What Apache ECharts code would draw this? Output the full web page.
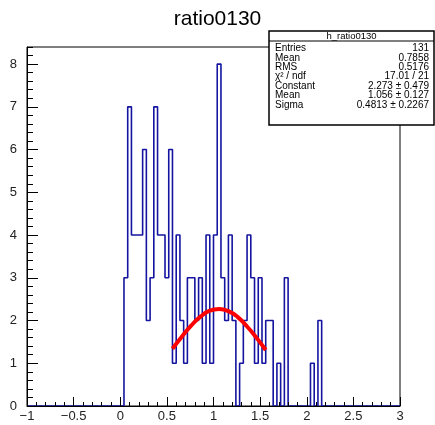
<!DOCTYPE html>
<html><head><meta charset="utf-8">
<script src="https://cdn.jsdelivr.net/npm/echarts@6/dist/echarts.min.js"></script>
<style>html,body{margin:0;padding:0;background:#fff}#c{width:435px;height:425px}</style>
</head><body><div id="c"></div>
<script>
// ---- data ----
const chartTitle = 'ratio0130';
const binStart = 0.04;
const binWidth = 0.04;
const counts = [3,7,4,4,4,6,2,3,7,4,4,3,6,1,4,2,1,3,3,2,3,1,4,1,4,8,3,2,4,2,0,1,2,4,3,1,3,1,2,2,0,1,0,3,0,0,0,0,0,0,1,0,2];
const xRange = [-1, 3];
const yRange = [0, 8.4];
const fitX = [0.56,0.66,0.76,0.86,0.96,1.06,1.16,1.26,1.36,1.46,1.56];
const fitY = [1.34,1.62,1.88,2.09,2.23,2.27,2.22,2.08,1.86,1.60,1.31];
const statsTitle = 'h_ratio0130';
const statsNames = ['Entries','Mean','RMS','\u03c7\u00b2 / ndf','Constant','Mean','Sigma'];
const statsValues = ['131','0.7858','0.5176','17.01 / 21','2.273 \u00b1 0.479','1.056 \u00b1 0.127','0.4813 \u00b1 0.2267'];

// ---- build ----
const histPts = [[xRange[0], 0]];
counts.forEach((c, i) => histPts.push([+(binStart + i * binWidth).toFixed(4), c]));
histPts.push([+(binStart + counts.length * binWidth).toFixed(4), 0]);
histPts.push([xRange[1], 0]);
const fitPts = fitX.map((x, i) => [x, fitY[i]]);

const FONT = 'Liberation Sans, Arial, Helvetica, sans-serif';
const box = {x: 269, y: 31, w: 165, h: 94};
const rowY0 = 48.5, rowStep = 9.4;
const graphics = [
  {type: 'rect', z: 100, shape: {x: box.x, y: box.y, width: box.w, height: box.h},
   style: {fill: '#fff', stroke: '#000', lineWidth: 1.5}},
  {type: 'line', z: 101, shape: {x1: box.x, y1: 41, x2: box.x + box.w, y2: 41},
   style: {stroke: '#000', lineWidth: 1}},
  {type: 'text', z: 101, x: box.x + box.w / 2, y: 36,
   style: {text: statsTitle, fill: '#000', font: '9.5px ' + FONT, textAlign: 'center', textVerticalAlign: 'middle'}}
];
statsNames.forEach((n, i) => {
  graphics.push({type: 'text', z: 101, x: 275, y: rowY0 + i * rowStep,
    style: {text: n, fill: '#000', font: '10px ' + FONT, textAlign: 'left', textVerticalAlign: 'middle'}});
  graphics.push({type: 'text', z: 101, x: 429, y: rowY0 + i * rowStep,
    style: {text: statsValues[i], fill: '#000', font: '10px ' + FONT, textAlign: 'right', textVerticalAlign: 'middle'}});
});

const fmt = v => (v < 0 ? '\u2212' + String(-v) : String(v));

const chart = echarts.init(document.getElementById('c'), null, {renderer: 'canvas'});
chart.setOption({
  animation: false,
  backgroundColor: '#fff',
  title: {text: chartTitle, left: 'center', top: 4,
    textStyle: {fontFamily: FONT, fontSize: 21, fontWeight: 'normal', color: '#000'}},
  grid: {left: 27, right: 35, top: 47, bottom: 19, show: true, borderColor: '#000', borderWidth: 1, backgroundColor: 'transparent'},
  xAxis: {
    type: 'value', min: xRange[0], max: xRange[1], interval: 0.5, z: 5,
    axisLine: {show: true, onZero: false, lineStyle: {color: '#000', width: 1}},
    axisTick: {show: true, inside: true, length: 9, lineStyle: {color: '#000'}},
    minorTick: {show: true, splitNumber: 5, length: 4, lineStyle: {color: '#000'}},
    axisLabel: {margin: 4, fontSize: 13, color: '#222', fontFamily: FONT, formatter: fmt},
    splitLine: {show: false}
  },
  yAxis: [{
    type: 'value', min: yRange[0], max: yRange[1], interval: 1, position: 'left', z: 5,
    axisLine: {show: true, onZero: false, lineStyle: {color: '#000', width: 1}},
    axisTick: {show: true, inside: true, length: 11, lineStyle: {color: '#000'}},
    axisLabel: {margin: 10, fontSize: 13, color: '#222', fontFamily: FONT, showMaxLabel: false},
    splitLine: {show: false}
  }, {
    type: 'value', min: yRange[0], max: yRange[1], interval: 0.2, position: 'left', offset: 0, z: 5,
    axisLine: {show: false, onZero: false},
    axisTick: {show: true, inside: true, length: 6, lineStyle: {color: '#000'}},
    axisLabel: {show: false},
    splitLine: {show: false}
  }],
  series: [{
    type: 'line', step: 'end', data: histPts, yAxisIndex: 0, z: 2,
    symbol: 'none', lineStyle: {color: '#1414a0', width: 1.6}
  }, {
    type: 'line', smooth: true, data: fitPts, yAxisIndex: 0, z: 3,
    symbol: 'none', lineStyle: {color: '#ff0000', width: 4}
  }],
  graphic: graphics
});
</script></body></html>
